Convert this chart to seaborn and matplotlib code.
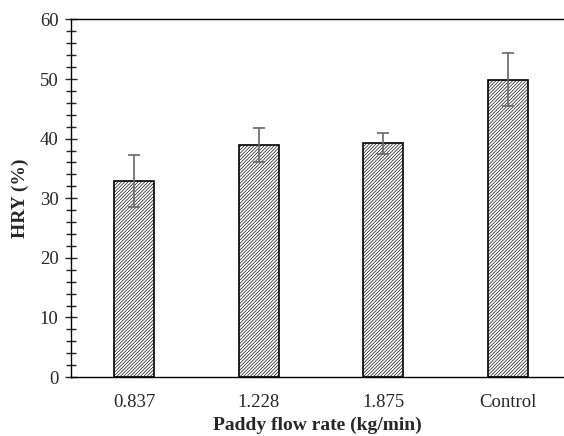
import numpy as np
import pandas as pd
import matplotlib
matplotlib.use("Agg")
import matplotlib.pyplot as plt
import seaborn as sns
from matplotlib.ticker import MultipleLocator

# data
rates = ["0.837", "1.228", "1.875", "Control"]
hry = [32.9, 38.9, 39.2, 49.9]
hry_err = [4.3, 2.9, 1.8, 4.5]

df = pd.DataFrame({"rate": rates, "HRY": hry})

sns.set_style("white")
plt.rcParams["font.family"] = ["Liberation Serif", "DejaVu Serif"]
plt.rcParams["hatch.linewidth"] = 0.45
plt.rcParams["hatch.color"] = "#555555"

fig = plt.figure(figsize=(5.64, 4.36), dpi=100)
ax = fig.add_axes([0.1259, 0.1353, 0.8741, 0.820])

sns.barplot(data=df, x="rate", y="HRY", color="white", edgecolor="black",
            linewidth=1.2, width=0.32, errorbar=None, ax=ax)
for bar in ax.patches:
    bar.set_hatch("//////////")

ax.errorbar(np.arange(len(rates)), hry, yerr=hry_err, fmt="none",
            ecolor="#666666", elinewidth=1.2, capsize=4, capthick=1.2)

ax.set_ylim(0, 60)
ax.set_xlim(-0.505, 3.449)
ax.yaxis.set_major_locator(MultipleLocator(10))
ax.yaxis.set_minor_locator(MultipleLocator(2))
ax.tick_params(axis="y", which="major", direction="inout", length=8, width=1,
               labelsize=13.5, left=True, pad=5)
ax.tick_params(axis="y", which="minor", direction="inout", length=7, width=1,
               left=True)
ax.tick_params(axis="x", length=0, labelsize=13.5, pad=12)

ax.spines["right"].set_visible(False)
for s in ["left", "bottom", "top"]:
    ax.spines[s].set_color("black")
    ax.spines[s].set_linewidth(1)

ax.set_xlabel("Paddy flow rate (kg/min)", fontsize=14, fontweight="bold",
              labelpad=4)
ax.set_ylabel("HRY (%)", fontsize=14, fontweight="bold", labelpad=8)

fig.savefig("out.png", dpi=100)
